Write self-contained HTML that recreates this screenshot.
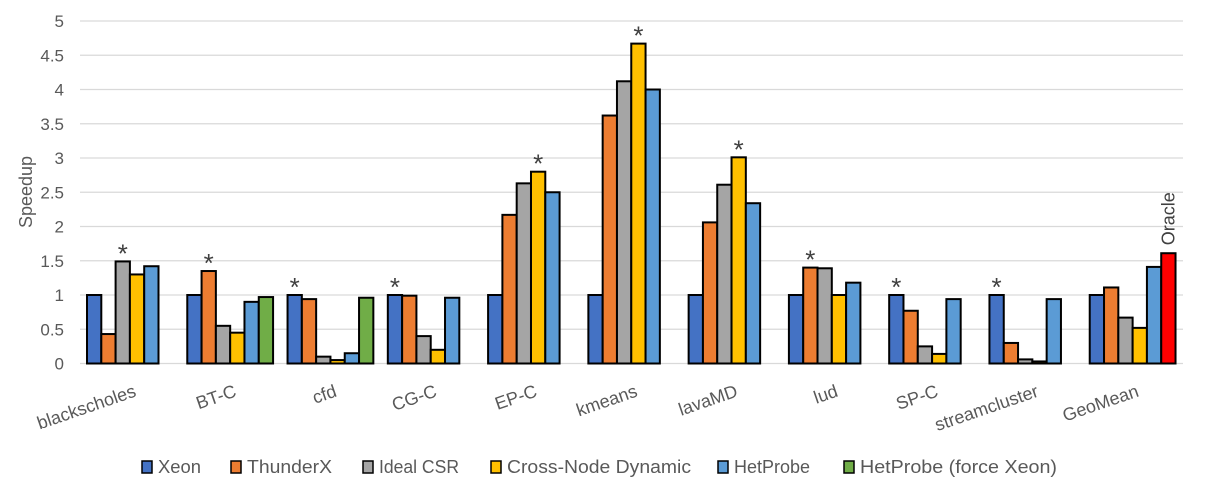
<!DOCTYPE html>
<html><head><meta charset="utf-8"><style>
html,body{margin:0;padding:0;background:#fff;}
svg{display:block;font-family:"Liberation Sans",sans-serif;}
</style></head><body>
<svg id="chart" width="1215" height="504" viewBox="0 0 1215 504">
<g id="grid"></g>
<g id="yticks"></g>
<text x="32" y="192" transform="rotate(-90 32 192)" text-anchor="middle" font-size="18" fill="#595959">Speedup</text>
<g id="bars"></g>
<g id="stars"></g>
<g id="xlabels"></g>
<g id="legend"></g>
</svg>
<script>
const categories = ["blackscholes","BT-C","cfd","CG-C","EP-C","kmeans","lavaMD","lud","SP-C","streamcluster","GeoMean"];
const seriesNames = ["Xeon","ThunderX","Ideal CSR","Cross-Node Dynamic","HetProbe","HetProbe (force Xeon)"];
const xeon = [1,1,1,1,1,1,1,1,1,1,1];
const thunderx = [0.43,1.35,0.94,0.99,2.17,3.62,2.06,1.40,0.77,0.30,1.11];
const idealCsr = [1.49,0.55,0.10,0.40,2.63,4.12,2.61,1.39,0.25,0.06,0.67];
const crossNode = [1.30,0.45,0.05,0.20,2.80,4.67,3.01,1.00,0.14,0.03,0.52];
const hetprobe = [1.42,0.90,0.15,0.96,2.50,4.00,2.34,1.18,0.94,0.94,1.41];
const forceXeon = [null,0.97,0.96,null,null,null,null,null,null,null,1.61];
const starSeries = [2,1,0,0,3,3,3,1,0,0,null];
const yTicks = ["0","0.5","1","1.5","2","2.5","3","3.5","4","4.5","5"];
const colors = ["#4472c4","#ed7d31","#a5a5a5","#ffc000","#5b9bd5","#70ad47"];
const series = [xeon,thunderx,idealCsr,crossNode,hetprobe,forceXeon];

const NS="http://www.w3.org/2000/svg";
const X0=80, X1=1183, Y0=363.5, YMAX=5, PX=(363.5-21)/5;
const gw=(X1-X0)/categories.length, bw=14.3, off=7;
function y(v){return Y0-v*PX;}
function gx(i){return X0+i*gw;}
function bx(i,s){return gx(i)+off+s*bw;}
function mk(tag,attrs,parent){const e=document.createElementNS(NS,tag);for(const k in attrs)e.setAttribute(k,attrs[k]);parent.appendChild(e);return e;}

const grid=document.getElementById('grid'), yt=document.getElementById('yticks');
yTicks.forEach((t,i)=>{
  const v=parseFloat(t);
  const l=mk('line',{x1:X0,x2:X1,y1:y(v),y2:y(v),stroke:'#d9d9d9','stroke-width':1.3},grid);
  
  
  const tx=mk('text',{x:64,y:y(v)+6,'text-anchor':'end','font-size':17,fill:'#595959'},yt);
  tx.textContent=t;
  
  
});

const bars=document.getElementById('bars'), stars=document.getElementById('stars');
categories.forEach((c,i)=>{
  series.forEach((arr,s)=>{
    const v=arr[i]; if(v===null||v===undefined) return;
    let col=colors[s];
    if(s===5 && c==="GeoMean") col="#ff0000";
    const r=mk('rect',{x:bx(i,s),y:y(v),width:bw,height:Y0-y(v),fill:col,stroke:'#000','stroke-width':2},bars);
    
    
  });
  const ss=starSeries[i];
  if(ss!==null){
    const st=mk('text',{x:bx(i,ss)+bw/2,y:y(series[ss][i])+1,'text-anchor':'middle','font-size':26,fill:'#404040'},stars);
    st.textContent='*';
    
    
  }
  const cx=gx(i)+gw/2+7, ly=396;
  const lt=mk('text',{x:cx,y:ly,'text-anchor':'end','font-size':18,fill:'#595959',transform:'rotate(-19 '+cx+' '+ly+')'},document.getElementById('xlabels'));
  lt.textContent=c;
  
  
});
// Oracle label
{
  const i=categories.length-1, ox=bx(i,5)+bw/2+6, oy=y(forceXeon[i])-8;
  const o=mk('text',{x:ox,y:oy,'font-size':18,fill:'#404040',transform:'rotate(-90 '+ox+' '+oy+')'},stars);
  o.textContent='Oracle';
  
  
}
// legend
const lg=document.getElementById('legend');
const legX=[141,230,362,490,717,843], legW=[43,85,80,184,76,197];
seriesNames.forEach((n,s)=>{
  const g=mk('g',{},lg);
  
  
  mk('rect',{x:legX[s]+1,y:461,width:10,height:12,fill:colors[s],stroke:'#000','stroke-width':1.5},g);
  const t=mk('text',{x:legX[s]+17,y:473,'font-size':18,fill:'#595959',textLength:legW[s],lengthAdjust:'spacingAndGlyphs'},g);
  t.textContent=n;
});
</script>
</body></html>
